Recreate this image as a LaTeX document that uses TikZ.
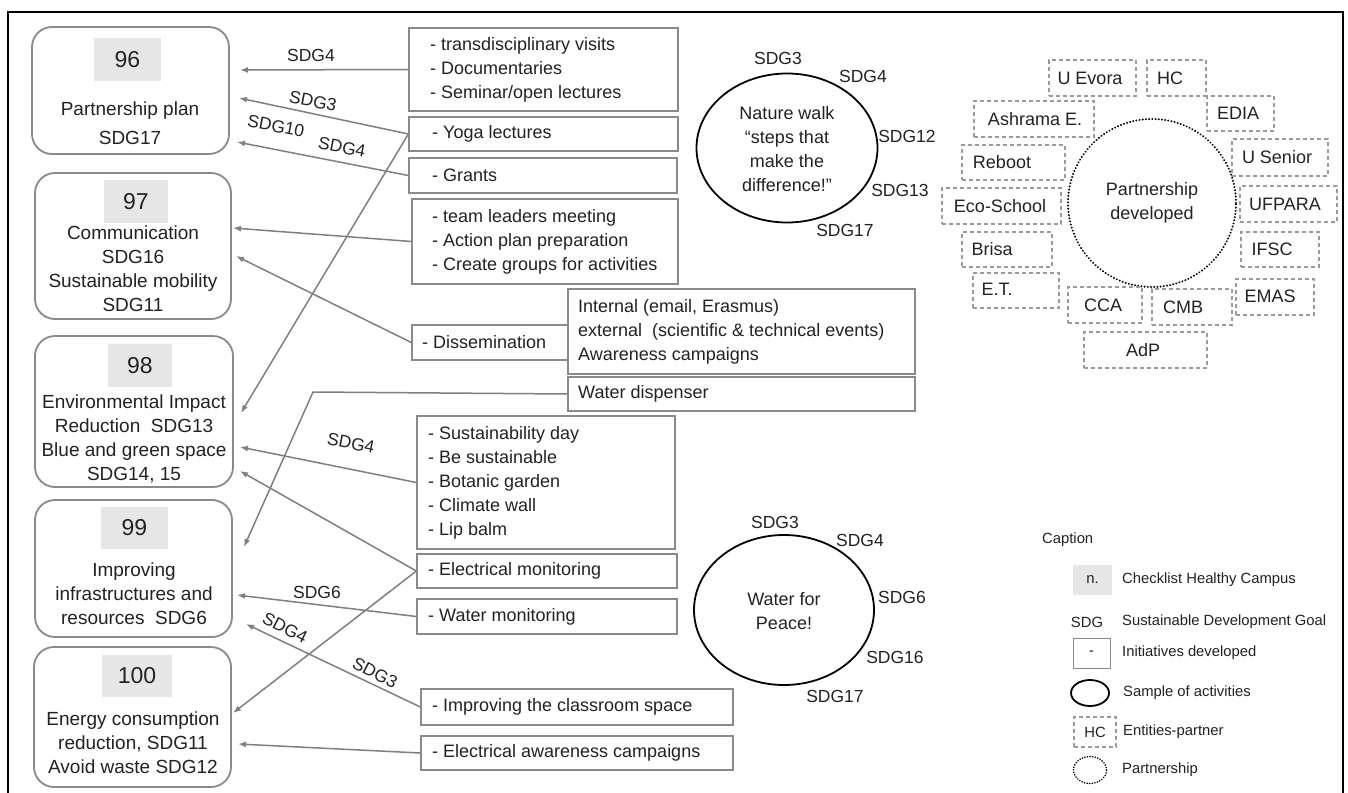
\documentclass[tikz,border=0pt]{standalone}
\usepackage{fontspec}
\setmainfont{Liberation Sans}
\usetikzlibrary{arrows.meta,shapes.geometric}
\definecolor{lg}{HTML}{7F7F7F}
\definecolor{bg}{HTML}{8A8A8A}
\definecolor{numfill}{HTML}{E6E6E6}
\definecolor{dg}{HTML}{9A9A9A}
\definecolor{tx}{HTML}{222222}
\newcommand{\fmid}{\fontsize{18}{24}\selectfont}
\newcommand{\fleft}{\fontsize{19}{24}\selectfont}
\newcommand{\fnum}{\fontsize{23}{27}\selectfont}
\newcommand{\fcap}{\fontsize{14.8}{18}\selectfont}
\newcommand{\fsdg}{\fontsize{17.5}{21}\selectfont}
\begin{document}
\begin{tikzpicture}[x=1pt,y=-1pt,every node/.style={text=tx},
  lbox/.style={draw=bg, line width=1.8pt, rounded corners=20pt, inner sep=0pt},
  nbox/.style={fill=numfill, inner sep=0pt, font=\fnum},
  ltext/.style={align=center, font=\fleft, inner sep=0pt},
  ibox/.style={draw=bg, line width=1.3pt, inner sep=0pt},
  itext/.style={anchor=west, align=left, font=\fmid, inner sep=0pt},
  pbox/.style={draw=dg, line width=1.1pt, dash pattern=on 4pt off 3pt, inner sep=0pt},
  ptext/.style={font=\fmid, inner sep=0pt},
  conn/.style={draw=lg, line width=1.5pt, -{Latex[length=8pt,width=6pt]}},
  plain/.style={draw=lg, line width=1.5pt},
  sdg/.style={font=\fsdg, inner sep=0pt},
  act/.style={ellipse, draw=black, line width=1.8pt, inner sep=0pt},
  ctext/.style={font=\fcap, inner sep=0pt, anchor=west}]
\useasboundingbox (0,0) rectangle (1348,792);
\fill[white] (0,0) rectangle (1348,792);
\draw[line width=2.5pt] (8,800) -- (8,12) -- (1343,12) -- (1343,800);

% left boxes
\node[lbox, minimum width=197pt, minimum height=127pt] (b96) at (130.5,90.5) {};
\node[nbox, minimum width=67pt, minimum height=43pt] (n96) at (127.5,59.5) {96};
\node[ltext] (l96) at (130,123) {Partnership plan\\[5pt]SDG17};

\node[lbox, minimum width=196pt, minimum height=146pt] (b97) at (133,246) {};
\node[nbox, minimum width=64pt, minimum height=43pt] (n97) at (136,201.5) {97};
\node[ltext] (l97) at (133,269) {Communication\\SDG16\\Sustainable mobility\\SDG11};

\node[lbox, minimum width=198pt, minimum height=151pt] (b98) at (134,411.5) {};
\node[nbox, minimum width=64pt, minimum height=43pt] (n98) at (140,365.5) {98};
\node[ltext] (l98) at (134,439) {Environmental Impact\\Reduction\ \ SDG13\\Blue and green space\\SDG14, 15};

\node[lbox, minimum width=197pt, minimum height=137pt] (b99) at (133.5,568.5) {};
\node[nbox, minimum width=67pt, minimum height=42pt] (n99) at (134.5,528) {99};
\node[ltext] (l99) at (134,594) {Improving\\infrastructures and\\resources\ \ SDG6};

\node[lbox, minimum width=197pt, minimum height=140pt] (b100) at (132.5,717) {};
\node[nbox, minimum width=70pt, minimum height=42pt] (n100) at (137,676) {100};
\node[ltext] (l100) at (133,743) {Energy consumption\\reduction, SDG11\\Avoid waste SDG12};

% initiative boxes
\node[ibox, minimum width=269pt, minimum height=83pt] (m1) at (543.5,69.5) {};
\node[itext] (m1t) at (430,69.5) {- transdisciplinary visits\\- Documentaries\\- Seminar/open lectures};
\node[ibox, minimum width=269pt, minimum height=34pt] (m2) at (543.5,134) {};
\node[itext] (m2t) at (432,134) {- Yoga lectures};
\node[ibox, minimum width=268pt, minimum height=35pt] (m3) at (543,175.5) {};
\node[itext] (m3t) at (432,175.5) {- Grants};
\node[ibox, minimum width=266pt, minimum height=85pt] (m4) at (545,241.5) {};
\node[itext] (m4t) at (432,241.5) {- team leaders meeting\\- Action plan preparation\\- Create groups for activities};
\node[ibox, minimum width=156pt, minimum height=35pt] (m5) at (490,342.5) {};
\node[itext] (m5t) at (422,342.5) {- Dissemination};
\node[ibox, minimum width=347pt, minimum height=85pt] (m6) at (741.5,331.5) {};
\node[itext] (m6t) at (578,331.5) {Internal (email, Erasmus)\\external\ \ (scientific \& technical events)\\Awareness campaigns};
\node[ibox, minimum width=347pt, minimum height=34pt] (m7) at (741.5,394) {};
\node[itext] (m7t) at (578,394) {Water dispenser};
\node[ibox, minimum width=258pt, minimum height=133pt] (m8) at (546,482.5) {};
\node[itext] (m8t) at (428,482.5) {- Sustainability day\\- Be sustainable\\- Botanic garden\\- Climate wall\\- Lip balm};
\node[ibox, minimum width=260pt, minimum height=34pt] (m9) at (547,571) {};
\node[itext] (m9t) at (428,571) {- Electrical monitoring};
\node[ibox, minimum width=260pt, minimum height=35pt] (m10) at (547,616.5) {};
\node[itext] (m10t) at (428,616.5) {- Water monitoring};
\node[ibox, minimum width=312pt, minimum height=36pt] (m11) at (577,707) {};
\node[itext] (m11t) at (432,707) {- Improving the classroom space};
\node[ibox, minimum width=312pt, minimum height=34pt] (m12) at (577,753) {};
\node[itext] (m12t) at (432,753) {- Electrical awareness campaigns};

% arrow tips
\coordinate (t1) at (240,70);
\coordinate (t2) at (239,98);
\coordinate (t3) at (237,142);
\coordinate (t4) at (241,413);
\coordinate (t5) at (233,228);
\coordinate (t6) at (236,256);
\coordinate (k7) at (313,392);
\coordinate (t7) at (244,547);
\coordinate (t8) at (240,447);
\coordinate (t9) at (240,471);
\coordinate (t10) at (233,713);
\coordinate (t11) at (237,595);
\coordinate (t12) at (246,624);
\coordinate (t13) at (238,744);

\draw[conn] (m1.west) -- (t1);
\draw[conn] (m2.west) -- (t2);
\draw[conn] (m3.west) -- (t3);
\draw[conn] (m2.west) -- (t4);
\draw[conn] (m4.west) -- (t5);
\draw[conn] (m5.west) -- (t6);
\draw[conn] (m7.west) -- (k7) -- (t7);
\draw[conn] (m8.west) -- (t8);
\draw[conn] (m9.west) -- (t9);
\draw[conn] (m9.west) -- (t10);
\draw[conn] (m10.west) -- (t11);
\draw[conn] (m11.west) -- (t12);
\draw[conn] (m12.west) -- (t13);

% arrow labels
\node[sdg] (s1) at (311,55) {SDG4};
\node[sdg, rotate=-11] (s2) at (313,101) {SDG3};
\node[sdg, rotate=-11] (s3) at (276,126) {SDG10};
\node[sdg, rotate=-11] (s4) at (342,147) {SDG4};
\node[sdg, rotate=-11] (s5) at (351,443) {SDG4};
\node[sdg] (s6) at (317,592) {SDG6};
\node[sdg, rotate=-27] (s7) at (285,628) {SDG4};
\node[sdg, rotate=-27] (s8) at (375,673) {SDG3};

% activity ellipses
\node[act, minimum width=181pt, minimum height=149pt] (e1) at (787,148) {};
\node[align=center, font=\fmid, inner sep=0pt] (e1t) at (787,149) {Nature walk\\“steps that\\make the\\difference!”};
\node[sdg] (e1a) at (778,58) {SDG3};
\node[sdg] (e1b) at (863,76) {SDG4};
\node[sdg] (e1c) at (907,136) {SDG12};
\node[sdg] (e1d) at (900,190) {SDG13};
\node[sdg] (e1e) at (845,230) {SDG17};

\node[act, minimum width=180pt, minimum height=150pt] (e2) at (784,610) {};
\node[align=center, font=\fmid, inner sep=0pt] (e2t) at (784,611) {Water for\\Peace!};
\node[sdg] (e2a) at (775,522) {SDG3};
\node[sdg] (e2b) at (860,540) {SDG4};
\node[sdg] (e2c) at (902,597) {SDG6};
\node[sdg] (e2d) at (895,657) {SDG16};
\node[sdg] (e2e) at (835,696) {SDG17};

% partnership
\node[circle, draw=black, line width=2.2pt, dash pattern=on 0.01pt off 3.2pt, line cap=round, minimum size=168pt, inner sep=0pt] (pc) at (1152,203) {};
\node[align=center, font=\fmid, inner sep=0pt] (pct) at (1152,203) {Partnership\\developed};

\node[pbox, minimum width=87pt, minimum height=36pt] (p1) at (1092.5,78) {};
\node[ptext] (p1t) at (1090,78) {U Evora};
\node[pbox, minimum width=59pt, minimum height=36pt] (p2) at (1176.5,78) {};
\node[ptext] (p2t) at (1170,78) {HC};
\node[pbox, minimum width=67pt, minimum height=35pt] (p3) at (1240.5,113.5) {};
\node[ptext] (p3t) at (1238,113.5) {EDIA};
\node[pbox, minimum width=120pt, minimum height=36pt] (p4) at (1034,119) {};
\node[ptext] (p4t) at (1035,119) {Ashrama E.};
\node[pbox, minimum width=103pt, minimum height=35pt] (p5) at (1013.5,162.5) {};
\node[ptext] (p5t) at (1002,162.5) {Reboot};
\node[pbox, minimum width=96pt, minimum height=37pt] (p6) at (1280,157.5) {};
\node[ptext] (p6t) at (1277,157.5) {U Senior};
\node[pbox, minimum width=119pt, minimum height=36pt] (p7) at (1001.5,206) {};
\node[ptext] (p7t) at (1000,206) {Eco-School};
\node[pbox, minimum width=97pt, minimum height=36pt] (p8) at (1288.5,204) {};
\node[ptext] (p8t) at (1285,204) {UFPARA};
\node[pbox, minimum width=90pt, minimum height=35pt] (p9) at (1007,249.5) {};
\node[ptext] (p9t) at (992,249.5) {Brisa};
\node[pbox, minimum width=78pt, minimum height=35pt] (p10) at (1280,249.5) {};
\node[ptext] (p10t) at (1272,249.5) {IFSC};
\node[pbox, minimum width=86pt, minimum height=35pt] (p11) at (1016,290.5) {};
\node[ptext] (p11t) at (997,289) {E.T.};
\node[pbox, minimum width=74pt, minimum height=36pt] (p12) at (1105,305) {};
\node[ptext] (p12t) at (1103,305) {CCA};
\node[pbox, minimum width=80pt, minimum height=36pt] (p13) at (1192,307) {};
\node[ptext] (p13t) at (1183,307) {CMB};
\node[pbox, minimum width=78pt, minimum height=36pt] (p14) at (1275,297) {};
\node[ptext] (p14t) at (1270,296) {EMAS};
\node[pbox, minimum width=123pt, minimum height=36pt] (p15) at (1145.5,350) {};
\node[ptext] (p15t) at (1143,350) {AdP};

% caption
\node[ctext] (cap) at (1042,540) {Caption};
\node[fill=numfill, minimum width=39pt, minimum height=30pt, inner sep=0pt, font=\fcap] (cn) at (1092.5,580) {n.};
\node[ctext] (cnt) at (1122,580) {Checklist Healthy Campus};
\node[font=\fcap, inner sep=0pt] (cs) at (1087,622) {SDG};
\node[ctext] (cst) at (1122,622) {Sustainable Development Goal};
\node[draw=bg, line width=1pt, minimum width=37pt, minimum height=30pt, inner sep=0pt, font=\fcap] (ci) at (1091.5,653) {-};
\node[ctext] (cit) at (1122,653) {Initiatives developed};
\node[act, minimum width=38pt, minimum height=26pt] (ce) at (1090,693) {};
\node[ctext] (cet) at (1123,693) {Sample of activities};
\node[pbox, minimum width=42pt, minimum height=30pt, font=\fcap] (ch) at (1095,732) {HC};
\node[ctext] (cht) at (1123,732) {Entities-partner};
\node[ellipse, draw=black, line width=1.8pt, dash pattern=on 0.01pt off 2.6pt, line cap=round, minimum width=33pt, minimum height=27pt, inner sep=0pt] (cp) at (1090,770) {};
\node[ctext] (cpt) at (1122,770) {Partnership};
\end{tikzpicture}
\end{document}
